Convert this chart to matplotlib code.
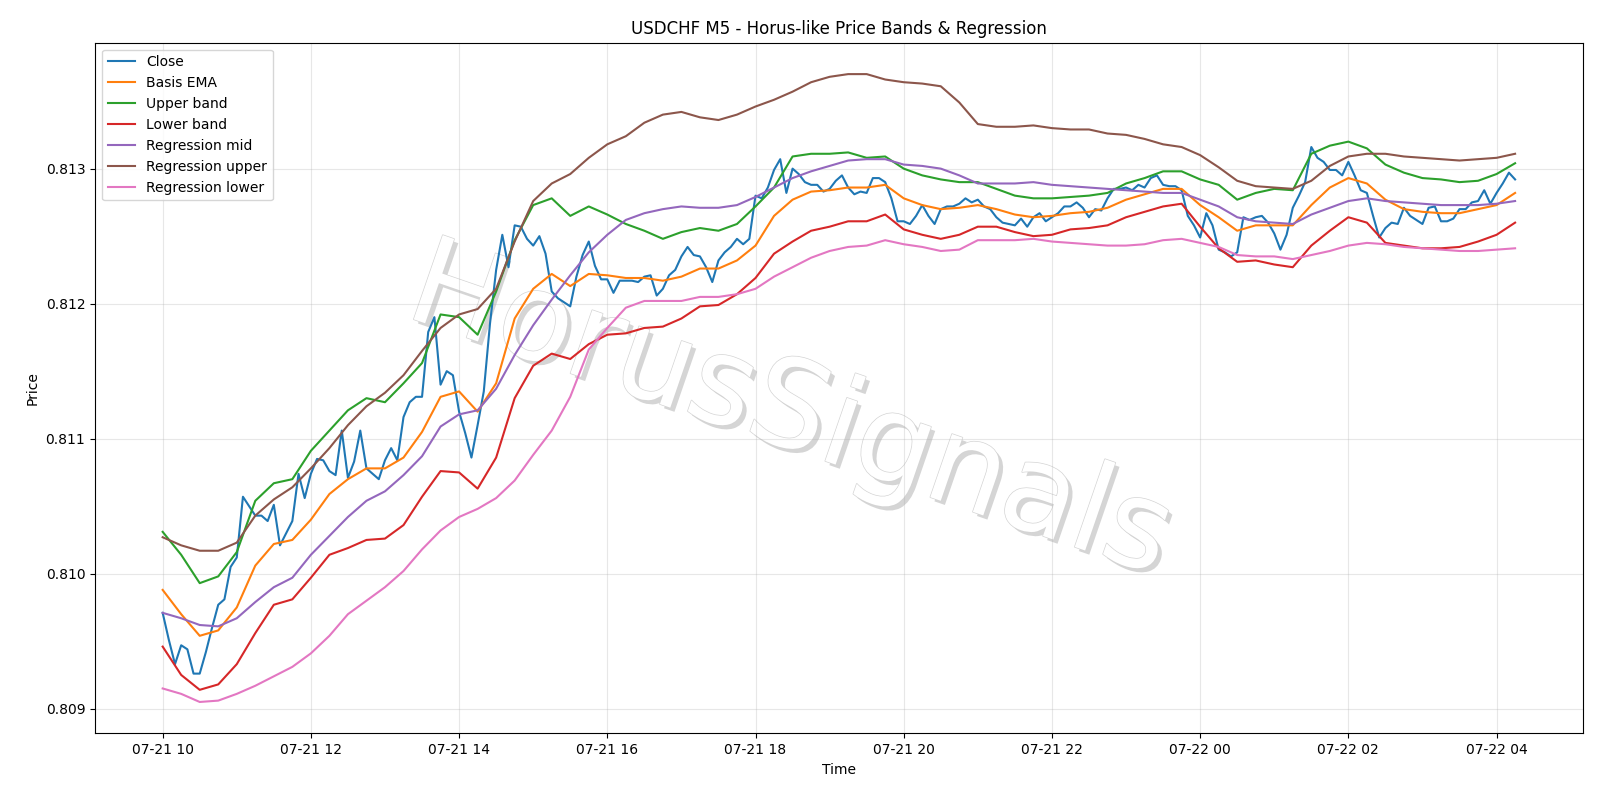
import matplotlib
matplotlib.use("Agg")
import matplotlib.pyplot as plt
import matplotlib.dates as mdates
import matplotlib.patheffects as pe
from matplotlib.ticker import MultipleLocator
import pandas as pd

start = "2025-07-21 10:00"
n_bars = 220
band_step = 3

close = [
    0.80971, 0.80951, 0.80933, 0.80947, 0.80944, 0.80926, 0.80926, 0.80942, 0.80960, 0.80977,
    0.80981, 0.81005, 0.81012, 0.81057, 0.81050, 0.81043, 0.81043, 0.81039, 0.81051, 0.81021,
    0.81030, 0.81039, 0.81074, 0.81056, 0.81074, 0.81085, 0.81084, 0.81076, 0.81073, 0.81106,
    0.81071, 0.81083, 0.81106, 0.81078, 0.81074, 0.81070, 0.81084, 0.81093, 0.81084, 0.81116,
    0.81127, 0.81131, 0.81131, 0.81179, 0.81190, 0.81140, 0.81150, 0.81147, 0.81120, 0.81104,
    0.81086, 0.81110, 0.81135, 0.81185, 0.81225, 0.81251, 0.81227, 0.81258, 0.81257, 0.81248,
    0.81243, 0.81250, 0.81237, 0.81209, 0.81204, 0.81201, 0.81198, 0.81220, 0.81236, 0.81246,
    0.81228, 0.81218, 0.81218, 0.81208, 0.81217, 0.81217, 0.81217, 0.81216, 0.81220, 0.81221,
    0.81206, 0.81211, 0.81221, 0.81225, 0.81235, 0.81242, 0.81236, 0.81235, 0.81227, 0.81216,
    0.81232, 0.81238, 0.81242, 0.81248, 0.81244, 0.81248, 0.81280, 0.81278, 0.81286, 0.81299,
    0.81307, 0.81282, 0.81300, 0.81296, 0.81290, 0.81288, 0.81288, 0.81283, 0.81285, 0.81291,
    0.81295, 0.81286, 0.81281, 0.81283, 0.81282, 0.81293, 0.81293, 0.81290, 0.81278, 0.81261,
    0.81261, 0.81259, 0.81265, 0.81273, 0.81265, 0.81259, 0.81270, 0.81272, 0.81272, 0.81274,
    0.81278, 0.81275, 0.81277, 0.81272, 0.81270, 0.81264, 0.81260, 0.81259, 0.81258, 0.81263,
    0.81257, 0.81264, 0.81267, 0.81261, 0.81264, 0.81267, 0.81272, 0.81272, 0.81275, 0.81271,
    0.81264, 0.81270, 0.81269, 0.81278, 0.81285, 0.81285, 0.81286, 0.81284, 0.81288, 0.81286,
    0.81293, 0.81295, 0.81288, 0.81287, 0.81287, 0.81284, 0.81265, 0.81258, 0.81249, 0.81267,
    0.81258, 0.81240, 0.81238, 0.81235, 0.81238, 0.81264, 0.81262, 0.81264, 0.81265, 0.81260,
    0.81252, 0.81240, 0.81251, 0.81271, 0.81280, 0.81290, 0.81316, 0.81308, 0.81305, 0.81299,
    0.81299, 0.81295, 0.81305, 0.81295, 0.81284, 0.81282, 0.81265, 0.81249, 0.81256, 0.81260,
    0.81259, 0.81271, 0.81265, 0.81262, 0.81259, 0.81271, 0.81272, 0.81261, 0.81261, 0.81263,
    0.81270, 0.81270, 0.81275, 0.81276, 0.81284, 0.81274, 0.81282, 0.81289, 0.81297, 0.81292,
]

basis_ema = [
    0.80988, 0.80970, 0.80954, 0.80958, 0.80975, 0.81006, 0.81022, 0.81025, 0.81040, 0.81059,
    0.81070, 0.81078, 0.81078, 0.81086, 0.81105, 0.81131, 0.81135, 0.81120, 0.81141, 0.81189,
    0.81211, 0.81222, 0.81213, 0.81222, 0.81221, 0.81219, 0.81219, 0.81217, 0.81220, 0.81226,
    0.81226, 0.81232, 0.81243, 0.81265, 0.81277, 0.81283, 0.81284, 0.81286, 0.81286, 0.81288,
    0.81278, 0.81273, 0.81270, 0.81271, 0.81273, 0.81270, 0.81266, 0.81264, 0.81265, 0.81267,
    0.81268, 0.81271, 0.81277, 0.81281, 0.81285, 0.81285, 0.81273, 0.81264, 0.81254, 0.81258,
    0.81258, 0.81258, 0.81273, 0.81286, 0.81293, 0.81289, 0.81277, 0.81270, 0.81268, 0.81267,
    0.81267, 0.81270, 0.81273, 0.81282,
]

upper_band = [
    0.81031, 0.81014, 0.80993, 0.80998, 0.81016, 0.81054, 0.81067, 0.81070, 0.81091, 0.81106,
    0.81121, 0.81130, 0.81127, 0.81141, 0.81156, 0.81192, 0.81190, 0.81177, 0.81209, 0.81247,
    0.81273, 0.81278, 0.81265, 0.81272, 0.81266, 0.81259, 0.81254, 0.81248, 0.81253, 0.81256,
    0.81254, 0.81259, 0.81272, 0.81286, 0.81309, 0.81311, 0.81311, 0.81312, 0.81308, 0.81309,
    0.81300, 0.81295, 0.81292, 0.81290, 0.81290, 0.81285, 0.81280, 0.81278, 0.81278, 0.81279,
    0.81280, 0.81282, 0.81289, 0.81293, 0.81298, 0.81298, 0.81292, 0.81288, 0.81277, 0.81282,
    0.81285, 0.81284, 0.81311, 0.81317, 0.81320, 0.81315, 0.81303, 0.81297, 0.81293, 0.81292,
    0.81290, 0.81291, 0.81296, 0.81304,
]

lower_band = [
    0.80946, 0.80925, 0.80914, 0.80918, 0.80933, 0.80956, 0.80977, 0.80981, 0.80997, 0.81014,
    0.81019, 0.81025, 0.81026, 0.81036, 0.81057, 0.81076, 0.81075, 0.81063, 0.81086, 0.81130,
    0.81154, 0.81163, 0.81159, 0.81170, 0.81177, 0.81178, 0.81182, 0.81183, 0.81189, 0.81198,
    0.81199, 0.81207, 0.81219, 0.81237, 0.81246, 0.81254, 0.81257, 0.81261, 0.81261, 0.81266,
    0.81255, 0.81251, 0.81248, 0.81251, 0.81257, 0.81257, 0.81253, 0.81250, 0.81251, 0.81255,
    0.81256, 0.81258, 0.81264, 0.81268, 0.81272, 0.81274, 0.81257, 0.81241, 0.81231, 0.81232,
    0.81229, 0.81227, 0.81243, 0.81254, 0.81264, 0.81260, 0.81245, 0.81243, 0.81241, 0.81241,
    0.81242, 0.81246, 0.81251, 0.81260,
]

reg_mid = [
    0.80971, 0.80967, 0.80962, 0.80961, 0.80967, 0.80979, 0.80990, 0.80997, 0.81014, 0.81028,
    0.81042, 0.81054, 0.81061, 0.81073, 0.81087, 0.81109, 0.81118, 0.81121, 0.81137, 0.81162,
    0.81184, 0.81203, 0.81221, 0.81238, 0.81251, 0.81262, 0.81267, 0.81270, 0.81272, 0.81271,
    0.81271, 0.81273, 0.81279, 0.81286, 0.81293, 0.81298, 0.81302, 0.81306, 0.81307, 0.81307,
    0.81303, 0.81302, 0.81300, 0.81295, 0.81289, 0.81289, 0.81289, 0.81290, 0.81288, 0.81287,
    0.81286, 0.81285, 0.81284, 0.81283, 0.81282, 0.81282, 0.81277, 0.81272, 0.81264, 0.81261,
    0.81260, 0.81259, 0.81266, 0.81271, 0.81276, 0.81278, 0.81276, 0.81275, 0.81274, 0.81273,
    0.81273, 0.81273, 0.81274, 0.81276,
]

reg_upper = [
    0.81027, 0.81021, 0.81017, 0.81017, 0.81023, 0.81043, 0.81055, 0.81064, 0.81078, 0.81093,
    0.81110, 0.81124, 0.81134, 0.81147, 0.81165, 0.81182, 0.81192, 0.81196, 0.81211, 0.81246,
    0.81276, 0.81289, 0.81296, 0.81308, 0.81318, 0.81324, 0.81334, 0.81340, 0.81342, 0.81338,
    0.81336, 0.81340, 0.81346, 0.81351, 0.81357, 0.81364, 0.81368, 0.81370, 0.81370, 0.81366,
    0.81364, 0.81363, 0.81361, 0.81349, 0.81333, 0.81331, 0.81331, 0.81332, 0.81330, 0.81329,
    0.81329, 0.81326, 0.81325, 0.81322, 0.81318, 0.81316, 0.81310, 0.81301, 0.81291, 0.81287,
    0.81286, 0.81285, 0.81291, 0.81302, 0.81309, 0.81311, 0.81311, 0.81309, 0.81308, 0.81307,
    0.81306, 0.81307, 0.81308, 0.81311,
]

reg_lower = [
    0.80915, 0.80911, 0.80905, 0.80906, 0.80911, 0.80917, 0.80924, 0.80931, 0.80941, 0.80954,
    0.80970, 0.80980, 0.80990, 0.81002, 0.81018, 0.81032, 0.81042, 0.81048, 0.81056, 0.81069,
    0.81088, 0.81106, 0.81131, 0.81166, 0.81182, 0.81197, 0.81202, 0.81202, 0.81202, 0.81205,
    0.81205, 0.81207, 0.81211, 0.81220, 0.81227, 0.81234, 0.81239, 0.81242, 0.81243, 0.81247,
    0.81244, 0.81242, 0.81239, 0.81240, 0.81247, 0.81247, 0.81247, 0.81248, 0.81246, 0.81245,
    0.81244, 0.81243, 0.81243, 0.81244, 0.81247, 0.81248, 0.81245, 0.81242, 0.81236, 0.81235,
    0.81235, 0.81233, 0.81236, 0.81239, 0.81243, 0.81245, 0.81244, 0.81242, 0.81241, 0.81240,
    0.81239, 0.81239, 0.81240, 0.81241,
]

times = pd.date_range(start, periods=n_bars, freq="5min")
band_times = times[::band_step]

fig = plt.figure(figsize=(16, 8), dpi=100)
ax = fig.add_axes([0.0594, 0.0833, 0.9298, 0.8633])

ax.plot(times, close, label="Close", lw=1.5, color="#1f77b4", zorder=3)
ax.plot(band_times, basis_ema, label="Basis EMA", lw=1.5, color="#ff7f0e", zorder=3)
ax.plot(band_times, upper_band, label="Upper band", lw=1.5, color="#2ca02c", zorder=3)
ax.plot(band_times, lower_band, label="Lower band", lw=1.5, color="#d62728", zorder=3)
ax.plot(band_times, reg_mid, label="Regression mid", lw=1.5, color="#9467bd", zorder=3)
ax.plot(band_times, reg_upper, label="Regression upper", lw=1.5, color="#8c564b", zorder=3)
ax.plot(band_times, reg_lower, label="Regression lower", lw=1.5, color="#e377c2", zorder=3)

ax.text(0.494, 0.483, "HorusSignals", transform=fig.transFigure, fontsize=88,
        rotation=-19, ha="center", va="center", color="white", zorder=1,
        path_effects=[pe.SimplePatchShadow(offset=(3, -3), shadow_rgbFace="#888888", alpha=0.35),
                      pe.Stroke(linewidth=1.0, foreground="#d4d4d4"),
                      pe.Normal()])

ax.set_title("USDCHF M5 - Horus-like Price Bands & Regression", fontsize=12)
ax.set_xlabel("Time")
ax.set_ylabel("Price")
ax.grid(True, alpha=0.3)
ax.xaxis.set_major_locator(mdates.HourLocator(byhour=range(0, 24, 2)))
ax.xaxis.set_major_formatter(mdates.DateFormatter("%m-%d %H"))
ax.yaxis.set_major_locator(MultipleLocator(0.001))
ax.legend(loc="upper left")

fig.savefig("out.png", dpi=100)
